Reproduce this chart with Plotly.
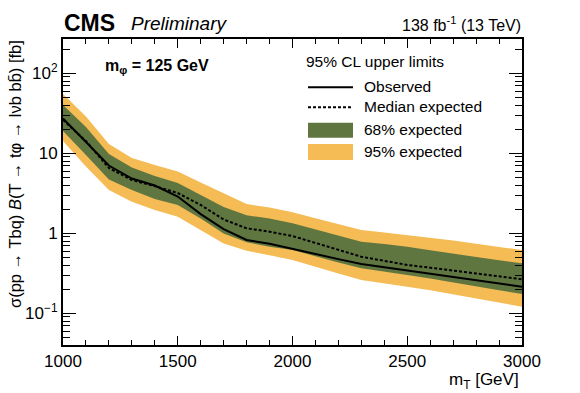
import plotly.graph_objects as go

# ---- data ----
mass = [1000, 1100, 1200, 1300, 1400, 1500, 1600, 1700, 1800, 1900, 2000,
        2100, 2200, 2300, 2400, 2500, 2600, 2700, 2800, 2900, 3000]
observed = [27.2, 13.8, 7.04, 4.84, 3.96, 2.88, 1.74, 1.13, 0.825, 0.741, 0.636,
            0.551, 0.476, 0.413, 0.376, 0.341, 0.311, 0.284, 0.259, 0.234, 0.215]
expected = [26.1, 14.25, 6.55, 4.64, 3.90, 3.19, 2.26, 1.49, 1.155, 1.047, 0.925,
            0.759, 0.618, 0.510, 0.453, 0.402, 0.372, 0.344, 0.316, 0.290, 0.266]
exp68_up = [40.2, 21.3, 9.8, 6.65, 5.20, 4.25, 3.01, 2.13, 1.68, 1.53, 1.334,
            1.119, 0.933, 0.785, 0.733, 0.680, 0.613, 0.554, 0.506, 0.460, 0.422]
exp68_dn = [19.0, 9.52, 4.71, 3.48, 2.68, 2.26, 1.53, 0.994, 0.772, 0.680, 0.618,
            0.519, 0.433, 0.365, 0.332, 0.301, 0.272, 0.245, 0.218, 0.194, 0.174]
exp95_up = [55.1, 28.8, 13.1, 8.73, 7.14, 5.92, 4.31, 3.13, 2.32, 2.10, 1.83,
            1.545, 1.296, 1.10, 1.023, 0.952, 0.881, 0.815, 0.741, 0.674, 0.618]
exp95_dn = [14.25, 6.84, 3.48, 2.48, 1.955, 1.612, 1.084, 0.746, 0.606, 0.532, 0.464,
            0.382, 0.314, 0.261, 0.237, 0.215, 0.194, 0.175, 0.154, 0.136, 0.121]

ytick_vals = [0.1, 1, 10, 100]
ytick_text = ["10<sup>−1</sup>", "1", "10", "10<sup>2</sup>"]
xtick_vals = [1000, 1500, 2000, 2500, 3000]

YELLOW = "#F5BB54"
GREEN = "#607641"
FONT = "Liberation Sans"

W, H = 580, 393
L, R, T, B = 63, 58, 39, 48
PW, PH = W - L - R, H - T - B


def px(x):
    return (x - L) / PW


def py(y):
    return (H - B - y) / PH


fig = go.Figure()
fig.add_trace(go.Scatter(x=mass + mass[::-1], y=exp95_up + exp95_dn[::-1],
                         fill="toself", fillcolor=YELLOW, line=dict(width=0),
                         mode="lines", hoverinfo="skip", showlegend=False))
fig.add_trace(go.Scatter(x=mass + mass[::-1], y=exp68_up + exp68_dn[::-1],
                         fill="toself", fillcolor=GREEN, line=dict(width=0),
                         mode="lines", hoverinfo="skip", showlegend=False))
fig.add_trace(go.Scatter(x=mass, y=expected, mode="lines",
                         line=dict(color="black", width=2, dash="3px,2px"),
                         showlegend=False))
fig.add_trace(go.Scatter(x=mass, y=observed, mode="lines",
                         line=dict(color="black", width=2), showlegend=False))

axis_common = dict(showline=True, linecolor="black", linewidth=2, mirror="allticks",
                   ticks="inside", tickcolor="black", tickwidth=1,
                   showgrid=False, zeroline=False, automargin=False,
                   tickfont=dict(family=FONT, size=17, color="black"))

fig.update_xaxes(range=[1000, 3000], tickvals=xtick_vals, ticklen=9,
                 minor=dict(ticks="inside", dtick=100, ticklen=5, tickcolor="black",
                            showgrid=False),
                 **axis_common)
fig.update_yaxes(type="log", range=[-1.396, 2.429], tickvals=ytick_vals,
                 ticktext=ytick_text, ticklen=13,
                 minor=dict(ticks="inside", dtick="D1", ticklen=7, tickcolor="black",
                            showgrid=False),
                 **axis_common)

ann = []


def text(x, y, s, size, xanchor="left", yanchor="middle", **kw):
    ann.append(dict(x=px(x), y=py(y), xref="paper", yref="paper", text=s,
                    showarrow=False, xanchor=xanchor, yanchor=yanchor,
                    font=dict(family=FONT, size=size, color="black"), **kw))


text(62, 23, "<b>CMS</b>", 23)
text(129, 24, "<i>Preliminary</i>", 19)
text(523, 24, "138 fb<sup>-1</sup> (13 TeV)", 16, xanchor="right")
text(103, 66, "<b>m<sub>φ</sub> = 125 GeV</b>", 16)
text(304, 62, "95% CL upper limits", 15.5)
text(362, 86, "Observed", 15.5)
text(362, 106.5, "Median expected", 15.5)
text(362, 129.5, "68% expected", 15.5)
text(362, 151.5, "95% expected", 15.5)
text(521, 381, "m<sub>T</sub> [GeV]", 17, xanchor="right")
ann.append(dict(x=px(15), y=py(38), xref="paper", yref="paper",
                text="σ(pp → Tbq) <i>B</i>(T → tφ → lνb bb̄) [fb]",
                textangle=-90, showarrow=False, xanchor="center", yanchor="top",
                font=dict(family=FONT, size=16.5, color="black")))

shapes = [
    dict(type="line", xref="paper", yref="paper", x0=px(308), x1=px(353),
         y0=py(87.3), y1=py(87.3), line=dict(color="black", width=2)),
    dict(type="line", xref="paper", yref="paper", x0=px(308), x1=px(353),
         y0=py(107.3), y1=py(107.3), line=dict(color="black", width=2, dash="3px,2px")),
    dict(type="rect", xref="paper", yref="paper", x0=px(308), x1=px(353),
         y0=py(137.7), y1=py(122.7), fillcolor=GREEN, line=dict(width=0)),
    dict(type="rect", xref="paper", yref="paper", x0=px(308), x1=px(353),
         y0=py(160), y1=py(144), fillcolor=YELLOW, line=dict(width=0)),
]

fig.update_layout(width=W, height=H, margin=dict(l=L, r=R, t=T, b=B),
                  paper_bgcolor="white", plot_bgcolor="white",
                  annotations=ann, shapes=shapes, showlegend=False)

fig.write_html("out.html", config={"displayModeBar": False},
               post_script="document.body.style.margin='0';"
                           "document.body.style.padding='0';")
